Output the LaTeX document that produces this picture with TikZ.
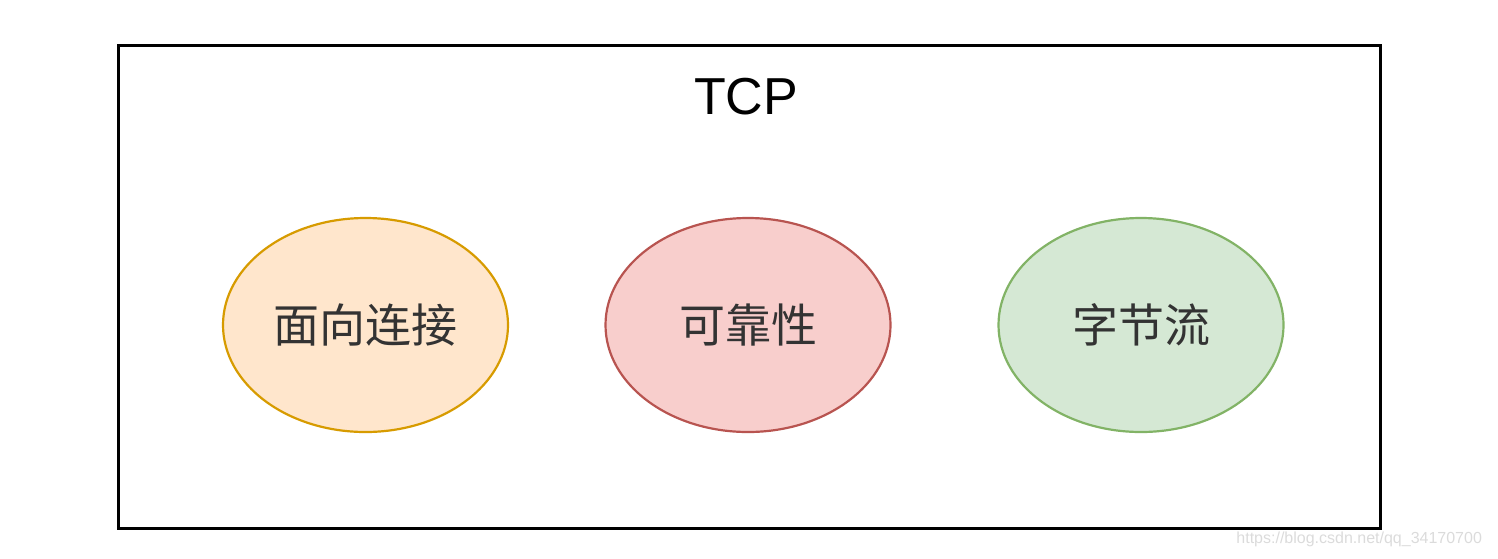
\documentclass[tikz,border=0pt]{standalone}
\usepackage{fontspec}
\setmainfont{Liberation Sans}
\newfontfamily\cjk{Noto Sans CJK SC}
\usepackage{xcolor}
\usetikzlibrary{shapes.geometric}
\definecolor{orfill}{HTML}{FFE6CC}
\definecolor{ordraw}{HTML}{D79B00}
\definecolor{rdfill}{HTML}{F8CECC}
\definecolor{rddraw}{HTML}{B85450}
\definecolor{grfill}{HTML}{D5E8D4}
\definecolor{grdraw}{HTML}{82B366}
\definecolor{txtgray}{HTML}{333333}
\tikzset{
  tcpframe/.style={line width=1.5pt, draw=black},
  tcptitle/.style={font=\fontsize{26}{30}\selectfont, text=black},
  feat/.style={ellipse, line width=1.1pt, minimum width=142.5pt, minimum height=107pt,
    inner sep=0pt, text=txtgray, font=\cjk\fontsize{23}{27}\selectfont},
  featorange/.style={feat, fill=orfill, draw=ordraw},
  featred/.style={feat, fill=rdfill, draw=rddraw},
  featgreen/.style={feat, fill=grfill, draw=grdraw},
  wmark/.style={font=\fontsize{8}{10}\selectfont, text=black!14, anchor=east},
}

\begin{document}
\begin{tikzpicture}[x=0.5pt,y=-0.5pt]
\useasboundingbox (0,0) rectangle (1498,558);
\draw[tcpframe] (118,45) rectangle (1380,528);
\node[tcptitle] (tcp) at (746,97) {TCP};
\node[featorange] (conn) at (365.5,325) {面向连接};
\node[featred] (rel) at (748,325) {可靠性};
\node[featgreen] (stream) at (1141,325) {字节流};
\node[wmark] (wm) at (1489,539) {https://blog.csdn.net/qq\_34170700};
\end{tikzpicture}
\end{document}
